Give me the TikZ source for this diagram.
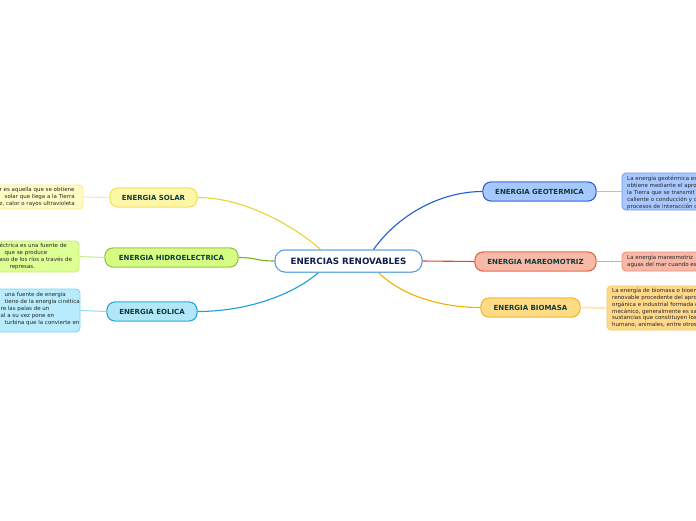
\documentclass[tikz,border=0pt]{standalone}
\usepackage{fontspec}
\setmainfont{DejaVu Sans}
\definecolor{cborder}{HTML}{5AA0E0}
\definecolor{ctext}{HTML}{102050}
\definecolor{btext}{HTML}{103A3A}
\definecolor{solF}{HTML}{FFF7A8}\definecolor{solB}{HTML}{F0E060}\definecolor{solC}{HTML}{E8D438}
\definecolor{solLF}{HTML}{FFFBC4}\definecolor{solLB}{HTML}{F7EA88}\definecolor{solLC}{HTML}{F5EAA8}
\definecolor{hidF}{HTML}{D6FC84}\definecolor{hidB}{HTML}{8CC63F}\definecolor{hidC}{HTML}{78B018}
\definecolor{hidLF}{HTML}{DEFF94}\definecolor{hidLB}{HTML}{C0EC70}\definecolor{hidLC}{HTML}{C8EC8A}
\definecolor{eolF}{HTML}{B3E7F8}\definecolor{eolB}{HTML}{1AA3DC}\definecolor{eolC}{HTML}{18A0DC}
\definecolor{eolLF}{HTML}{B8EBFB}\definecolor{eolLB}{HTML}{80D4F2}\definecolor{eolLC}{HTML}{90D8F4}
\definecolor{geoF}{HTML}{A6C8FF}\definecolor{geoB}{HTML}{2060D6}\definecolor{geoC}{HTML}{1F5CD6}
\definecolor{geoLF}{HTML}{A8C8FF}\definecolor{geoLB}{HTML}{6A98EE}\definecolor{geoLC}{HTML}{A8C0E8}
\definecolor{marF}{HTML}{F8BAA8}\definecolor{marB}{HTML}{E8603C}\definecolor{marC}{HTML}{E04A2A}
\definecolor{marLF}{HTML}{F8B8A8}\definecolor{marLB}{HTML}{F09070}\definecolor{marLC}{HTML}{F0A090}
\definecolor{bioF}{HTML}{FFDB85}\definecolor{bioB}{HTML}{F5B51E}\definecolor{bioC}{HTML}{F5B000}
\definecolor{bioLF}{HTML}{FFD88A}\definecolor{bioLB}{HTML}{F8C860}\definecolor{bioLC}{HTML}{FFE8B8}
\tikzset{
  central/.style={draw=cborder, fill=white, line width=1pt, rounded corners=10pt,
    minimum width=147pt, minimum height=22pt, inner sep=0pt, text=ctext,
    font=\fontsize{8.7}{10}\selectfont\bfseries},
  branch/.style={line width=0.9pt, rounded corners=8pt, minimum height=19pt, inner sep=0pt,
    text=btext, font=\fontsize{7}{8}\selectfont\bfseries},
  leaf/.style={line width=0.8pt, rounded corners=4pt, inner sep=0pt},
  leaftext/.style={inner sep=0pt, align=left, anchor=base west, text=black!85,
    font=\fontsize{5.5}{6.85}\selectfont},
  conn/.style={line width=1.1pt},
  lconn/.style={line width=1pt}
}
\begin{document}
\begin{tikzpicture}[x=1pt,y=-1pt]
\useasboundingbox (0,0) rectangle (696,520);
\clip (0,0) rectangle (696,520);
\fill[white] (0,0) rectangle (696,520);

% nodes (positions)
\node[central] (c) at (348.5,261) {ENERCIAS RENOVABLES};
\node[branch, draw=solB, fill=solF, minimum width=87pt] (sol) at (153.5,197.5) {ENERGIA SOLAR};
\node[branch, draw=hidB, fill=hidF, minimum width=133pt] (hid) at (171.5,257.5) {ENERGIA HIDROELECTRICA};
\node[branch, draw=eolB, fill=eolF, minimum width=90pt] (eol) at (152,311.5) {ENERGIA EOLICA};
\node[branch, draw=geoB, fill=geoF, minimum width=113pt] (geo) at (539.5,191.5) {ENERGIA GEOTERMICA};
\node[branch, draw=marB, fill=marF, minimum width=121pt] (mar) at (535.5,261.5) {ENERGIA MAREOMOTRIZ};
\node[branch, draw=bioB, fill=bioF, minimum width=99pt] (bio) at (530.5,307.5) {ENERGIA BIOMASA};

% leaf boxes
\node[leaf, draw=solLB, fill=solLF, minimum width=113pt, minimum height=24pt] (solL) at (26.5,197) {};
\node[leaf, draw=hidLB, fill=hidLF, minimum width=109pt, minimum height=31pt] (hidL) at (24.5,256.5) {};
\node[leaf, draw=eolLB, fill=eolLF, minimum width=110pt, minimum height=43pt] (eolL) at (25,310.5) {};
\node[leaf, draw=geoLB, fill=geoLF, minimum width=110pt, minimum height=37pt] (geoL) at (677,191.5) {};
\node[leaf, draw=marLB, fill=marLF, minimum width=110pt, minimum height=19pt] (marL) at (677,261.5) {};
\node[leaf, draw=bioLB, fill=bioLF, minimum width=125pt, minimum height=44pt] (bioL) at (669.5,308) {};

% connectors
\draw[conn, solC] ([xshift=-28pt]c.north) .. controls +(-22,-20) and +(50,0) .. (sol.east);
\draw[conn, hidC] (c.west) .. controls +(-18,0) and +(18,0) .. (hid.east);
\draw[conn, eolC] ([xshift=-30pt]c.south) .. controls +(-25,22) and +(50,0) .. (eol.east);
\draw[conn, geoC] ([xshift=25pt]c.north) .. controls +(25,-35) and +(-42,0) .. (geo.west);
\draw[conn, marC] (c.east) -- (mar.west);
\draw[conn, bioC] ([xshift=30pt]c.south) .. controls +(22,22) and +(-42,0) .. (bio.west);
\draw[lconn, solLC] (solL.east) -- (sol.west);
\draw[lconn, hidLC] (hidL.east) -- (hid.west);
\draw[lconn, eolLC] (eolL.east) -- (eol.west);
\draw[lconn, geoLC] (geo.east) -- (geoL.west);
\draw[lconn, marLC] (mar.east) -- (marL.west);
\draw[line width=2pt, bioLC] (bio.east) -- (bioL.west);

% redraw nodes on top of connectors
\node[central] at (c) {ENERCIAS RENOVABLES};
\node[branch, draw=solB, fill=solF, minimum width=87pt] at (sol) {ENERGIA SOLAR};
\node[branch, draw=hidB, fill=hidF, minimum width=133pt] at (hid) {ENERGIA HIDROELECTRICA};
\node[branch, draw=eolB, fill=eolF, minimum width=90pt] at (eol) {ENERGIA EOLICA};
\node[branch, draw=geoB, fill=geoF, minimum width=113pt] at (geo) {ENERGIA GEOTERMICA};
\node[branch, draw=marB, fill=marF, minimum width=121pt] at (mar) {ENERGIA MAREOMOTRIZ};
\node[branch, draw=bioB, fill=bioF, minimum width=99pt] at (bio) {ENERGIA BIOMASA};

% leaf texts (anchor = baseline of last line)
\node[leaftext] (solT) at (-0.5,205.3) {r es aquella que se obtiene\\\hspace*{5pt}solar que llega a la Tierra\\z, calor o rayos ultravioleta};
\node[leaftext] (hidT) at (-0.5,268.2) {éctrica es una fuente de\\\hspace*{5pt}que se produce\\aso de los ríos a través de\\\hspace*{10pt}represas.};
\node[leaftext] (eolT) at (-0.5,324) {\hspace*{5pt}una fuente de energía\\\hspace*{5pt}tiene de la energía cinética\\\hspace*{1pt}re las palas de un\\\hspace*{1pt}al a su vez pone en\\\hspace*{5pt}turbina que la convierte en};
\node[leaftext] (geoT) at (627,208) {La energía geotérmica es\\obtiene mediante el apro\\la Tierra que se transmit\\caliente o conducción y c\\procesos de interacción c};
\node[leaftext] (marT) at (627,266.4) {La energía mareomotriz\\aguas del mar cuando es};
\node[leaftext] (bioT) at (612,326.8) {La energía de biomasa o bioen\\renovable procedente del apro\\orgánica e industrial formada e\\mecánico, generalmente es sa\\sustancias que constituyen los\\humano, animales, entre otros};
\end{tikzpicture}
\end{document}
